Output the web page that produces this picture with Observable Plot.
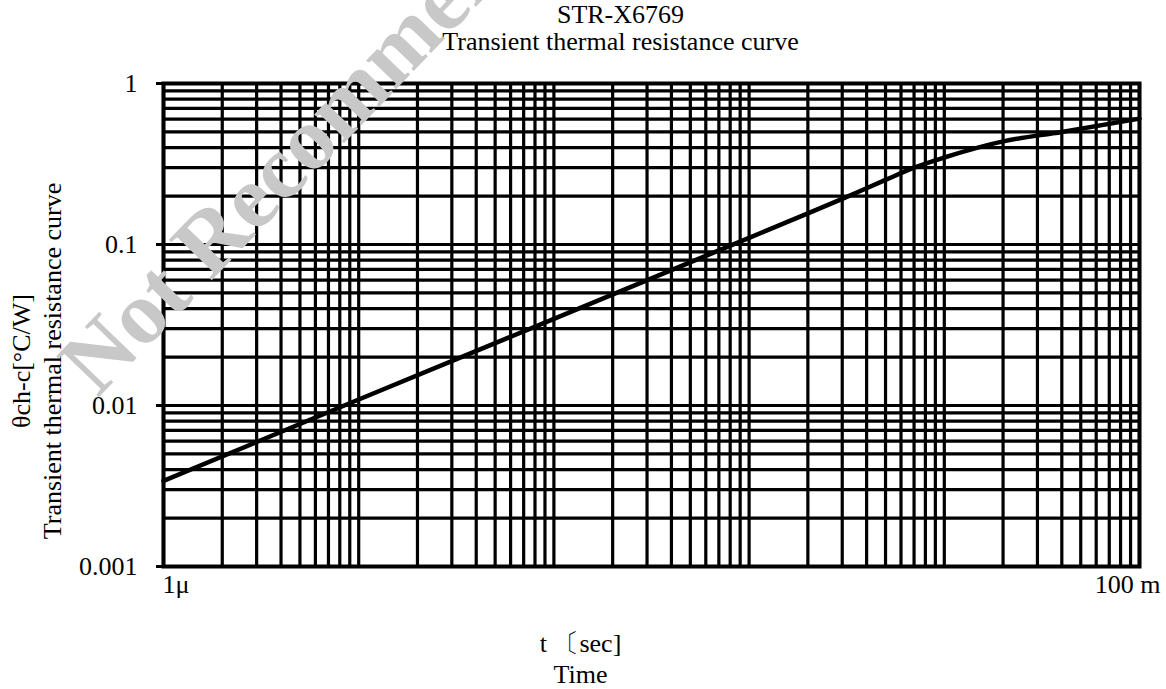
<!DOCTYPE html>
<html>
<head>
<meta charset="utf-8">
<script src="https://cdn.jsdelivr.net/npm/d3@7"></script>
<script src="https://cdn.jsdelivr.net/npm/@observablehq/plot@0.6"></script>
<style>
  html, body { margin: 0; padding: 0; background: #fff; }
  #chart svg { display: block; }
</style>
</head>
<body>
<div id="chart"></div>
<script>
// ---- Data ----
const timeSec  = [1e-6, 1e-5, 1e-4, 1e-3, 2e-3, 3e-3, 5e-3, 7e-3, 1e-2, 2e-2, 4e-2, 1e-1];
const thetaChC = [0.0034, 0.0109, 0.0345, 0.11, 0.156, 0.192, 0.252, 0.30, 0.347, 0.437, 0.50, 0.605];

const yTickValues = [1, 0.1, 0.01, 0.001];
const yTickLabels = ["1", "0.1", "0.01", "0.001"];
const xStartTick = 1e-6, xStartLabel = "1μ";
const xEndTick = 1e-1, xEndLabel = "100 m";

const titleLines  = ["STR-X6769", "Transient thermal resistance curve"];
const xLabelLines = ["t 〔sec]", "Time"];
const yLabelLines = ["θch-c[°C/W]", "Transient thermal resistance curve"];
const watermarkText = "Not Recommended";

const xDomain = [1e-6, 1e-1];
const yDomain = [1e-3, 1];

// log grid: 1..9 within each decade
function logGrid(lo, hi) {
  const out = [];
  for (let e = lo; e < hi; e++) for (let m = 1; m <= 9; m++) out.push(+(m * Math.pow(10, e)).toPrecision(6));
  out.push(Math.pow(10, hi));
  return out;
}
const xGrid = logGrid(-6, -1);
const yGrid = logGrid(-3, 0);

const data = timeSec.map((t, i) => ({t, theta: thetaChC[i]}));

const serif = "'Liberation Serif', 'Times New Roman', 'DejaVu Serif', serif";
const FS = 26;

const chart = Plot.plot({
  width: 1166,
  height: 689,
  marginTop: 83,
  marginLeft: 163,
  marginRight: 27,
  marginBottom: 123,
  style: {fontFamily: serif, fontSize: FS + "px", color: "#000", background: "#fff", overflow: "hidden"},
  x: {type: "log", domain: xDomain, axis: null},
  y: {type: "log", domain: yDomain, axis: null},
  marks: [
    Plot.ruleX(xGrid, {stroke: "#000", strokeWidth: 3.2}),
    Plot.ruleY(yGrid, {stroke: "#000", strokeWidth: 3.2}),
    Plot.frame({stroke: "#000", strokeWidth: 4}),
    Plot.line(data, {x: "t", y: "theta", curve: "monotone-x", stroke: "#000", strokeWidth: 4.5, strokeLinecap: "round"}),
    Plot.axisY({
      ticks: yTickValues,
      tickFormat: d => yTickLabels[yTickValues.indexOf(d)],
      tickSize: 7, tickPadding: 19, strokeWidth: 3,
      fontSize: FS, fill: "#000", label: null
    }),
    Plot.axisX({
      ticks: [xStartTick], tickFormat: () => xStartLabel,
      tickSize: 0, tickPadding: 8, textAnchor: "start", dx: -1,
      fontSize: FS, fill: "#000", label: null
    }),
    Plot.axisX({
      ticks: [xEndTick], tickFormat: () => xEndLabel,
      tickSize: 0, tickPadding: 8, textAnchor: "middle", dx: -12,
      fontSize: FS, fill: "#000", label: null
    }),
    // watermark (drawn over the grid, under the titles)
    Plot.text([watermarkText], {
      frameAnchor: "bottom-left", dx: -66, dy: -168, rotate: -46,
      textAnchor: "start", lineAnchor: "bottom",
      fontSize: 90, fontWeight: "bold", fill: "#c8c8c8"
    }),
    // title
    Plot.text([titleLines.join("\n")], {
      frameAnchor: "top", dx: -31, dy: -34, lineAnchor: "bottom",
      lineHeight: 27 / FS, fontSize: FS, fill: "#000", textAnchor: "middle"
    }),
    // x label
    Plot.text([xLabelLines.join("\n")], {
      frameAnchor: "bottom", dx: -71, dy: 116, lineAnchor: "bottom",
      lineHeight: 31 / FS, fontSize: FS, fill: "#000", textAnchor: "middle"
    }),
    // y label
    Plot.text([yLabelLines.join("\n")], {
      frameAnchor: "left", dx: -103, dy: 36, rotate: -90, lineAnchor: "bottom",
      lineHeight: 31 / FS, fontSize: FS, fill: "#000", textAnchor: "middle"
    })
  ]
});

document.getElementById("chart").appendChild(chart);
</script>
</body>
</html>
